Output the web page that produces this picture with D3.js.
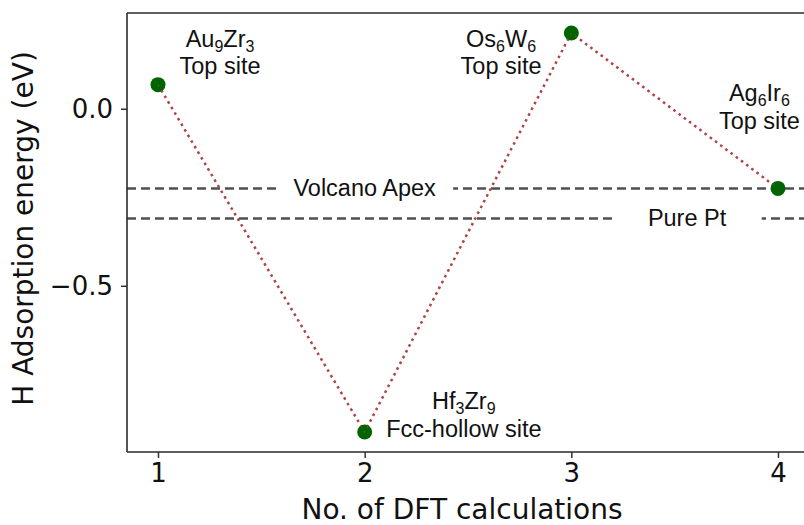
<!DOCTYPE html>
<html>
<head>
<meta charset="utf-8">
<script src="https://cdn.jsdelivr.net/npm/d3@7"></script>
<style>
  body { margin: 0; background: #fff; }
  svg { display: block; }
</style>
</head>
<body>
<script>
// data
var calcs = [1, 2, 3, 4];
var energies = [0.068, -0.913, 0.214, -0.225];
var xTicks = [1, 2, 3, 4];
var yTicks = [0.0, -0.5];

// reference lines
var refNames = ['Volcano Apex', 'Pure Pt'];
var refValues = [-0.225, -0.31];
var refLabelX = [2.0, 3.56];
var refPad = [17, 35];

// annotations (x center, y of the last baseline, text lines)
var noteX = [1.30, 2.66, 3.91, 2.48];
var noteY = [0.097, 0.097, -0.056, -0.926];
var noteLines = [
    ['Au_9Zr_3', 'Top site'],
    ['Os_6W_6', 'Top site'],
    ['Ag_6Ir_6', 'Top site'],
    ['Hf_3Zr_9', 'Fcc-hollow site']
];

var width = 804;
var height = 525;
var margin = {left: 127, top: 13, bottom: 73};
var plotRight = 809;
var sansText = 'Liberation Sans, Arial, sans-serif';
var dejavu = 'DejaVu Sans, sans-serif';

function get_scale() {
    var x_scale = d3.scaleLinear().domain([0.85, 4.15]).range([margin.left, plotRight]);
    var lo = d3.min(energies), hi = d3.max(energies);
    var pad = (hi - lo) * 0.05;
    var y_scale = d3.scaleLinear().domain([lo - pad, hi + pad]).range([height - margin.bottom, margin.top]);
    return {'x': x_scale, 'y': y_scale};
}

// "Au_9Zr_3" -> Au, subscript 9, Zr, subscript 3
function add_rich_text(sel, str) {
    var parts = str.match(/_\d+|[^_]+/g);
    var shift = 0;
    parts.forEach(function (p) {
        if (p[0] === '_') {
            sel.append('tspan').attr('font-size', 16).attr('dy', 5 - shift).text(p.slice(1));
            shift = 5;
        } else {
            sel.append('tspan').attr('dy', -shift).text(p);
            shift = 0;
        }
    });
}

function draw() {
    var svg = d3.select('body').append('svg')
        .attr('width', width)
        .attr('height', height);
    var scale = get_scale();
    var y0 = scale.y.range()[1], y1 = scale.y.range()[0];

    svg.append('clipPath').attr('id', 'plot-clip')
        .append('rect')
        .attr('x', margin.left).attr('y', y0)
        .attr('width', plotRight - margin.left).attr('height', y1 - y0);

    var plot = svg.append('g').attr('clip-path', 'url(#plot-clip)');

    // dashed reference lines with label gaps
    refNames.forEach(function (name, i) {
        var yy = scale.y(refValues[i]);
        plot.append('line')
            .attr('x1', margin.left).attr('x2', plotRight)
            .attr('y1', yy).attr('y2', yy)
            .attr('stroke', '#505050')
            .attr('stroke-width', 2.5)
            .attr('stroke-dasharray', '9,5');
        var t = plot.append('text')
            .attr('x', scale.x(refLabelX[i]))
            .attr('y', yy + 7.5)
            .attr('text-anchor', 'middle')
            .attr('font-family', sansText)
            .attr('font-size', 23.5)
            .attr('fill', '#111')
            .text(name);
        var bb = t.node().getBBox();
        plot.insert('rect', function () { return t.node(); })
            .attr('x', bb.x - refPad[i]).attr('y', yy - 4)
            .attr('width', bb.width + 2 * refPad[i]).attr('height', 8)
            .attr('fill', '#fff');
    });

    // dotted connecting line
    var line = d3.line()
        .x(function (d, i) { return scale.x(calcs[i]); })
        .y(function (d) { return scale.y(d); });
    plot.append('path')
        .datum(energies)
        .attr('d', line)
        .attr('fill', 'none')
        .attr('stroke', '#b04545')
        .attr('stroke-width', 2.5)
        .attr('stroke-dasharray', '2.5,4');

    plot.selectAll('circle')
        .data(energies)
        .enter()
        .append('circle')
        .attr('cx', function (d, i) { return scale.x(calcs[i]); })
        .attr('cy', function (d) { return scale.y(d); })
        .attr('r', 7.5)
        .attr('fill', '#006400');

    // faint dots over the markers, as in the original
    plot.append('path')
        .datum(energies)
        .attr('d', line)
        .attr('fill', 'none')
        .attr('stroke', '#b04545')
        .attr('stroke-width', 1.5)
        .attr('stroke-dasharray', '2,4.5')
        .attr('opacity', 0.6);

    // annotations
    noteLines.forEach(function (lines, i) {
        var n = lines.length;
        lines.forEach(function (str, j) {
            var t = plot.append('text')
                .attr('x', scale.x(noteX[i]))
                .attr('y', scale.y(noteY[i]) - (n - 1 - j) * 27.5)
                .attr('text-anchor', 'middle')
                .attr('font-family', sansText)
                .attr('font-size', 23.5)
                .attr('fill', '#111');
            add_rich_text(t, str);
        });
    });

    // axes
    var x_axis = d3.axisBottom(scale.x).tickValues(xTicks).tickSize(6).tickPadding(6)
        .tickFormat(d3.format('d'));
    var gx = svg.append('g')
        .attr('class', 'x axis')
        .attr('transform', 'translate(0,' + y1 + ')')
        .call(x_axis);

    var y_axis = d3.axisLeft(scale.y).tickValues(yTicks).tickSize(6).tickPadding(8)
        .tickFormat(function (d) { return d3.format('.1f')(d).replace('-', '\u2212'); });
    var gy = svg.append('g')
        .attr('class', 'y axis')
        .attr('transform', 'translate(' + margin.left + ',0)')
        .call(y_axis);

    [gx, gy].forEach(function (g) {
        g.select('.domain').remove();
        g.selectAll('.tick line').attr('stroke', '#333').attr('stroke-width', 1.5);
        g.selectAll('.tick text')
            .attr('font-family', dejavu)
            .attr('font-size', 26)
            .attr('fill', '#111');
    });

    // spines (left, bottom, top; right lies outside the picture)
    var spine = svg.append('g').attr('fill', 'none').attr('stroke', '#2a2a2a').attr('stroke-width', 1.6);
    spine.append('line').attr('x1', margin.left).attr('x2', margin.left).attr('y1', y0).attr('y2', y1);
    spine.append('line').attr('x1', margin.left).attr('x2', plotRight).attr('y1', y1).attr('y2', y1);
    spine.append('line').attr('x1', margin.left).attr('x2', plotRight).attr('y1', y0).attr('y2', y0);

    // axis labels
    svg.append('text')
        .attr('x', (margin.left + plotRight) / 2 - 6)
        .attr('y', 519)
        .attr('text-anchor', 'middle')
        .attr('font-family', dejavu)
        .attr('font-size', 28)
        .attr('fill', '#111')
        .text('No. of DFT calculations');

    svg.append('text')
        .attr('transform', 'translate(33,' + ((y0 + y1) / 2 - 4) + ') rotate(-90)')
        .attr('text-anchor', 'middle')
        .attr('font-family', dejavu)
        .attr('font-size', 28)
        .attr('fill', '#111')
        .text('H Adsorption energy (eV)');
}

draw();
</script>
</body>
</html>
